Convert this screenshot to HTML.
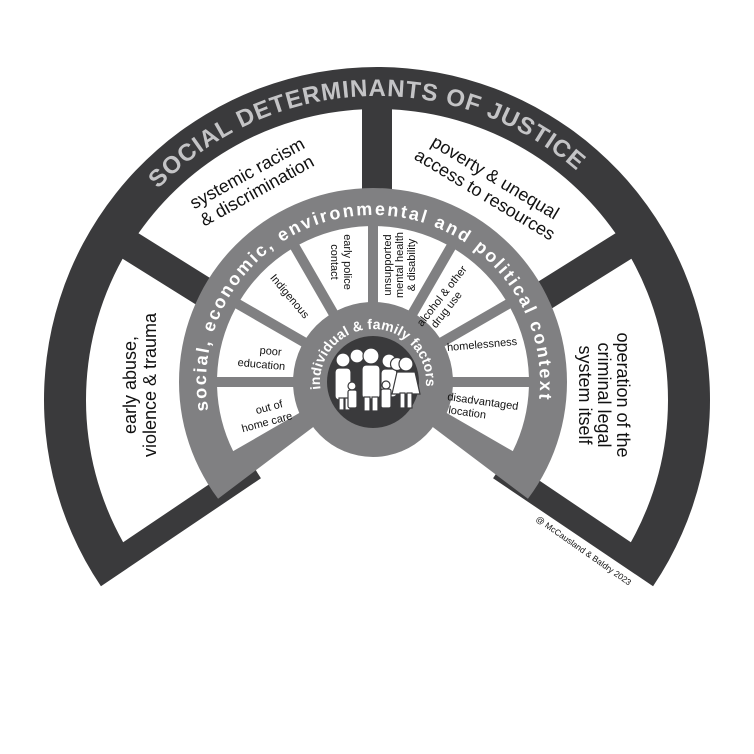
<!DOCTYPE html>
<html><head><meta charset="utf-8"><style>
html,body{margin:0;padding:0;background:#fff;}
svg{display:block;font-family:"Liberation Sans",sans-serif;}
</style></head><body>
<svg id="s" width="754" height="754" viewBox="0 0 754 754" xmlns="http://www.w3.org/2000/svg">
<defs>
<path id="tp1" d=""/>
<path id="tp2" d=""/>
<path id="tp3" d=""/>
</defs>
<g id="shapes"></g>
<g id="people" fill="#fff" stroke="#3a3a3c" stroke-width="1.2">
  <circle cx="343" cy="360" r="7"/><rect x="335" y="368" width="16" height="32" rx="4"/>
  <circle cx="357" cy="356" r="7"/>
  <circle cx="371" cy="356" r="8"/><rect x="362" y="365" width="18" height="34" rx="4"/>
  <circle cx="389" cy="361" r="7"/><rect x="381" y="369" width="16" height="28" rx="4"/>
  <circle cx="397" cy="364" r="6.5"/>
  <circle cx="406" cy="364" r="7"/><path d="M397 372 h18 l5 22 h-28 z"/>
  <rect x="339" y="398" width="5" height="12"/><rect x="345" y="398" width="5" height="12"/>
  <rect x="364" y="397" width="6" height="14"/><rect x="372" y="397" width="6" height="14"/>
  <rect x="400" y="393" width="5" height="15"/><rect x="407" y="393" width="5" height="15"/>
  <circle cx="352" cy="386" r="4"/><rect x="348" y="390" width="9" height="18" rx="2"/>
  <circle cx="386" cy="385" r="4"/><rect x="381" y="389" width="10" height="19" rx="2"/>
</g>
<g font-weight="bold">
<text fill="#c4c4c6" font-size="24"><textPath href="#tp1" startOffset="50%" text-anchor="middle" textLength="462" lengthAdjust="spacing">SOCIAL DETERMINANTS OF JUSTICE</textPath></text>
<text fill="#fff" font-size="18"><textPath href="#tp2" startOffset="50%" text-anchor="middle" textLength="570" lengthAdjust="spacing">social, economic, environmental and political context</textPath></text>
<text fill="#fff" font-size="14"><textPath href="#tp3" startOffset="50%" text-anchor="middle" textLength="178" lengthAdjust="spacing">individual &amp; family factors</textPath></text>
</g>
<g fill="#111" font-size="18" text-anchor="middle">
<text transform="translate(140,385) rotate(-90)"><tspan x="0" y="-4">early abuse,</tspan><tspan x="0" y="16">violence &amp; trauma</tspan></text>
<text transform="translate(252,182) rotate(-29)"><tspan x="0" y="-4">systemic racism</tspan><tspan x="0" y="16">&amp; discrimination</tspan></text>
<text transform="translate(490,186) rotate(31)"><tspan x="0" y="-4">poverty &amp; unequal</tspan><tspan x="0" y="16">access to resources</tspan></text>
<text transform="translate(603,395) rotate(90)"><tspan x="0" y="-14">operation of the</tspan><tspan x="0" y="5">criminal legal</tspan><tspan x="0" y="24">system itself</tspan></text>
</g>
<g fill="#111" font-size="11" text-anchor="middle">
<text transform="translate(265,415) rotate(-15)"><tspan x="6" y="-3">out of</tspan><tspan x="0" y="11">home care</tspan></text>
<text transform="translate(262,358) rotate(5)"><tspan x="8" y="-4">poor</tspan><tspan x="0" y="10">education</tspan></text>
<text transform="translate(290,296) rotate(50)"><tspan x="0" y="4">Indigenous</tspan></text>
<text transform="translate(342,262) rotate(90)"><tspan x="0" y="-2">early police</tspan><tspan x="0" y="11">contact</tspan></text>
<text transform="translate(400,265) rotate(-90)"><tspan x="0" y="-9">unsupported</tspan><tspan x="0" y="3">mental health</tspan><tspan x="0" y="15">&amp; disability</tspan></text>
<text transform="translate(447,300) rotate(-52)"><tspan x="0" y="-3">alcohol &amp; other</tspan><tspan x="-8" y="9">drug use</tspan></text>
<text transform="translate(482,344) rotate(-5)"><tspan x="0" y="4">homelessness</tspan></text>
<text transform="translate(482,408) rotate(8)"><tspan x="0" y="-3">disadvantaged</tspan><tspan x="-14" y="10">location</tspan></text>
</g>
<text transform="translate(582,553) rotate(35)" font-size="8.5" text-anchor="middle" fill="#111">@ McCausland &amp; Baldry 2023</text>
</svg>
<script>
(function(){
var R=Math.PI/180;
function P(cx,cy,r,a){return [cx+r*Math.sin(a*R),cy-r*Math.cos(a*R)];}
function f(p){return p[0].toFixed(2)+' '+p[1].toFixed(2);}
function sector(cx,cy,r1,r2,a1,a2,g1,g2){
  g1=g1||0;g2=g2||0;
  var o1=a1+Math.asin(g1/r2)/R,o2=a2-Math.asin(g2/r2)/R;
  var i1=r1>0?a1+Math.asin(Math.min(1,g1/r1))/R:0,i2=r1>0?a2-Math.asin(Math.min(1,g2/r1))/R:0;
  var d='M'+f(P(cx,cy,r2,o1))+' A'+r2+' '+r2+' 0 '+((o2-o1)>180?1:0)+' 1 '+f(P(cx,cy,r2,o2));
  if(r1>0){d+=' L'+f(P(cx,cy,r1,i2))+' A'+r1+' '+r1+' 0 '+((i2-i1)>180?1:0)+' 0 '+f(P(cx,cy,r1,i1));}
  else d+=' L'+cx+' '+cy;
  return d+'Z';
}
function arc(cx,cy,r,a1,a2){return 'M'+f(P(cx,cy,r,a1))+' A'+r+' '+r+' 0 '+((a2-a1)>180?1:0)+' 1 '+f(P(cx,cy,r,a2));}
var g=document.getElementById('shapes'),s='';
function add(d,c){s+='<path d="'+d+'" fill="'+c+'"/>';}
var D='#3a3a3c',G='#808082',W='#fff';
var ox=377,oy=400;
add(sector(ox,oy,140,333,-124,124),D);
var ob=[-124,-58,0,58,124];
for(var i=0;i<4;i++){add(sector(ox,oy,150,291,ob[i],ob[i+1],i==0?24:15,i==3?24:15),W);}
var ix=373,iy=382;
add(sector(ix,iy,0,194,-127,127),G);
add('M'+(ix-75)+' '+iy+' a75 75 0 1 0 150 0 a75 75 0 1 0 -150 0Z',G);
for(var k=0;k<8;k++){var a=-120+30*k;add(sector(ix,iy,80,156,a,a+30,k==0?10:5,k==7?10:5),W);}
add('M'+(ix-46)+' '+iy+' a46 46 0 1 0 92 0 a46 46 0 1 0 -92 0Z',D);
g.innerHTML=s;
document.getElementById('tp1').setAttribute('d',arc(ox,oy,304,-87.5,82.5));
document.getElementById('tp2').setAttribute('d',arc(ix,iy,167,-150,146));
document.getElementById('tp3').setAttribute('d',arc(ix,iy,53,-150,147));
})();
</script>
</body></html>
